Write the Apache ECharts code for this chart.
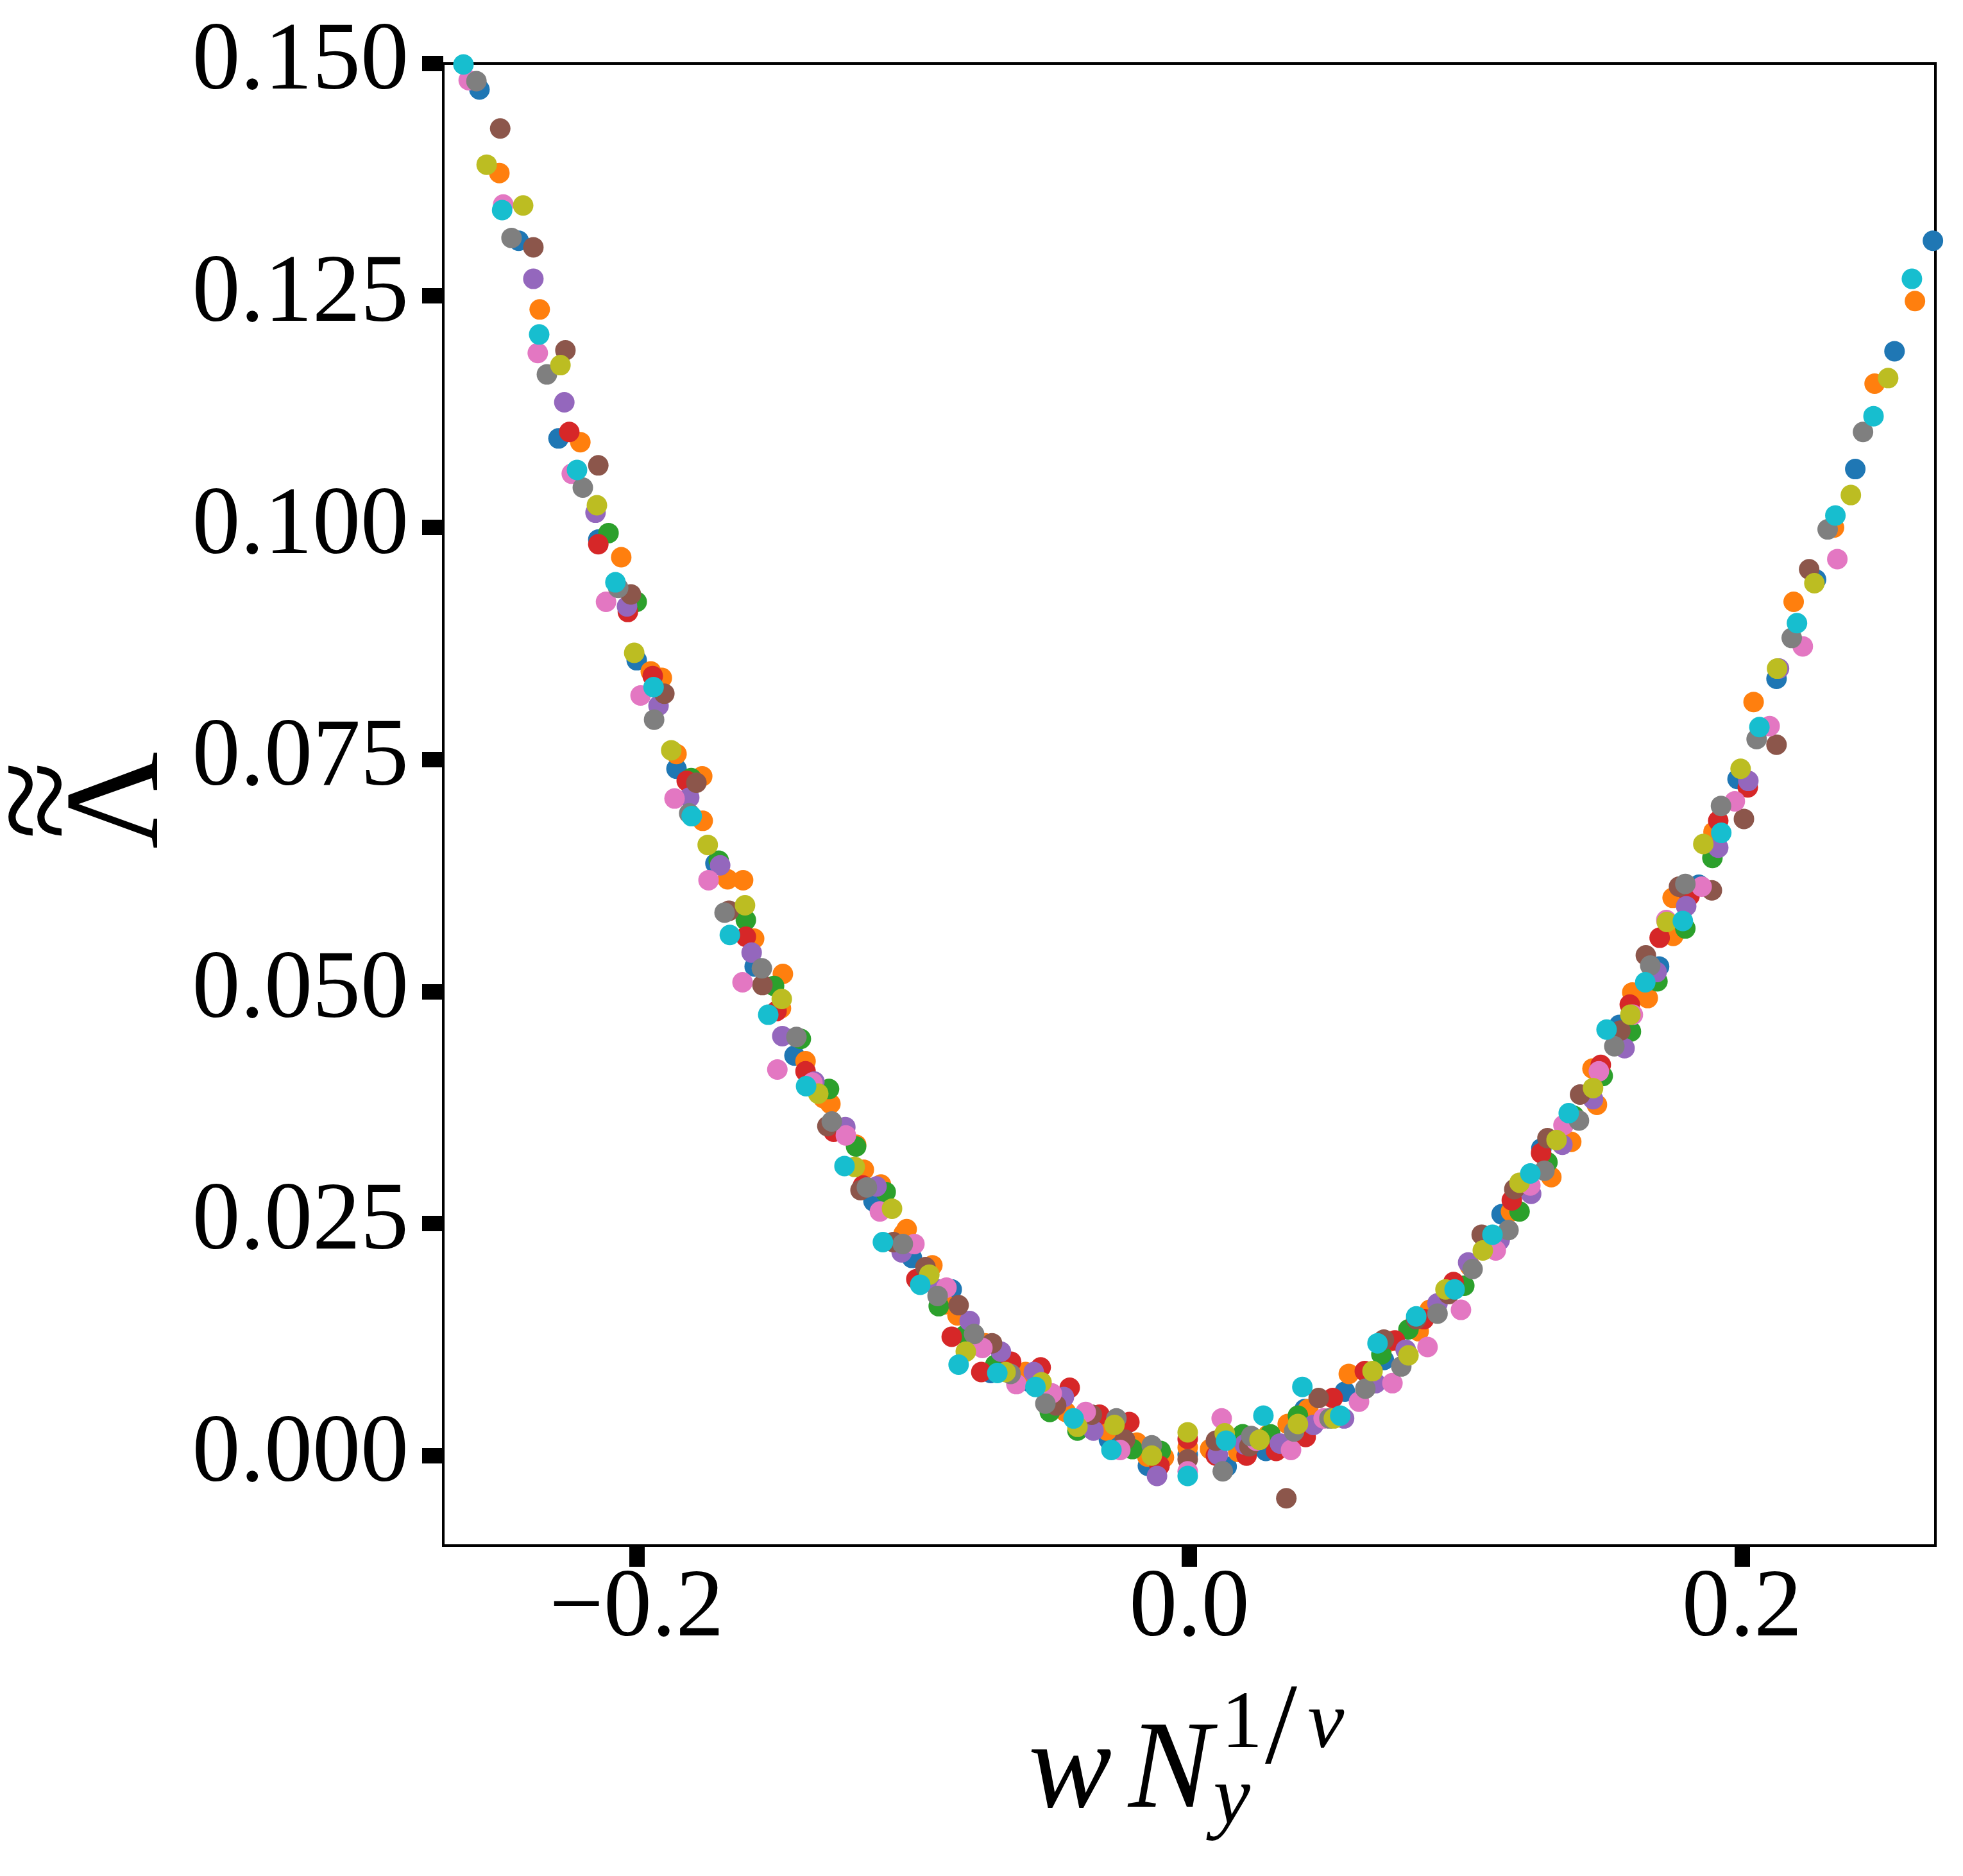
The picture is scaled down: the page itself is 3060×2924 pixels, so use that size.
<!DOCTYPE html>
<html><head><meta charset="utf-8">
<script src="https://cdn.jsdelivr.net/npm/echarts@6/dist/echarts.min.js"></script>
<style>html,body{margin:0;padding:0;background:#fff}#c{width:3060px;height:2924px}</style>
</head><body><div id="c"></div>
<script>
// ---- tick values ----
const xTicks = [-0.2, 0.0, 0.2];
const yTicks = [0.000, 0.025, 0.050, 0.075, 0.100, 0.125, 0.150];

// ---- data: [w*Ny^(1/nu), Lambda~] ----
const blue = [[-0.2569,0.1472],[-0.2427,0.1309],[-0.2283,0.1096],[-0.2139,0.0987],[-0.2000,0.0857],[-0.1856,0.0740],[-0.1715,0.0638],[-0.1573,0.0527],[-0.1429,0.0431],[-0.1287,0.0351],[-0.1143,0.0274],[-0.1004,0.0213],[-0.0860,0.0179],[-0.0719,0.0089],[-0.0575,0.0079],[-0.0291,0.0017],[-0.0150,-0.0011],[-0.0006,0.0001],[0.0135,-0.0012],[0.0277,0.0005],[0.0417,0.0050],[0.0563,0.0069],[0.0704,0.0103],[0.1130,0.0260],[0.1274,0.0331],[0.1556,0.0464],[0.1700,0.0527],[0.1844,0.0615],[0.1984,0.0729],[0.2125,0.0837],[0.2268,0.0944],[0.2410,0.1063],[0.2552,0.1190],[0.2691,0.1309]];
const orange = [[-0.2497,0.1382],[-0.2351,0.1235],[-0.2204,0.1092],[-0.2056,0.0968],[-0.1949,0.0845],[-0.1909,0.0838],[-0.1856,0.0756],[-0.1763,0.0732],[-0.1761,0.0684],[-0.1671,0.0621],[-0.1615,0.0620],[-0.1575,0.0557],[-0.1471,0.0519],[-0.1478,0.0482],[-0.1389,0.0425],[-0.1324,0.0385],[-0.1299,0.0379],[-0.1206,0.0335],[-0.1178,0.0308],[-0.1116,0.0292],[-0.1023,0.0244],[-0.1034,0.0239],[-0.0930,0.0205],[-0.0886,0.0163],[-0.0839,0.0151],[-0.0739,0.0121],[-0.0593,0.0090],[-0.0447,0.0047],[-0.0298,0.0027],[-0.0190,0.0014],[-0.0152,-0.0001],[-0.0092,-0.0002],[-0.0006,0.0009],[0.0075,0.0007],[0.0138,0.0018],[0.0177,0.0004],[0.0284,0.0022],[0.0356,0.0034],[0.0430,0.0050],[0.0577,0.0088],[0.0725,0.0123],[0.0830,0.0134],[0.0870,0.0157],[0.1016,0.0204],[0.1164,0.0263],[0.1310,0.0300],[0.1382,0.0338],[0.1475,0.0378],[0.1459,0.0417],[0.1603,0.0499],[0.1659,0.0493],[0.1751,0.0560],[0.1749,0.0601],[0.1897,0.0672],[0.2042,0.0812],[0.2187,0.0920],[0.2333,0.1000],[0.2480,0.1155],[0.2626,0.1244]];
const green = [[-0.2102,0.0994],[-0.2000,0.0920],[-0.1803,0.0730],[-0.1703,0.0641],[-0.1605,0.0577],[-0.1503,0.0506],[-0.1406,0.0449],[-0.1304,0.0395],[-0.1206,0.0333],[-0.1099,0.0284],[-0.0907,0.0161],[-0.0811,0.0130],[-0.0702,0.0098],[-0.0505,0.0047],[-0.0405,0.0027],[-0.0206,0.0007],[-0.0104,0.0005],[0.0193,0.0023],[0.0293,0.0023],[0.0393,0.0043],[0.0695,0.0109],[0.0793,0.0136],[0.0995,0.0183],[0.1195,0.0263],[0.1296,0.0316],[0.1392,0.0366],[0.1496,0.0409],[0.1598,0.0457],[0.1694,0.0511],[0.1795,0.0568],[0.1893,0.0644]];
const red = [[-0.2244,0.1103],[-0.2139,0.0982],[-0.2032,0.0909],[-0.1942,0.0840],[-0.1819,0.0727],[-0.1605,0.0559],[-0.1494,0.0479],[-0.1389,0.0414],[-0.1287,0.0349],[-0.1181,0.0291],[-0.0988,0.0190],[-0.0860,0.0128],[-0.0753,0.0090],[-0.0645,0.0101],[-0.0538,0.0095],[-0.0433,0.0073],[-0.0325,0.0044],[-0.0217,0.0036],[-0.0108,-0.0011],[-0.0006,0.0018],[0.0096,0.0000],[0.0207,0.0000],[0.0314,0.0005],[0.0421,0.0020],[0.0519,0.0062],[0.0635,0.0091],[0.0744,0.0124],[0.0849,0.0147],[0.0956,0.0187],[0.1167,0.0275],[0.1273,0.0326],[0.1489,0.0421],[0.1594,0.0486],[0.1702,0.0558],[0.1810,0.0603],[0.1914,0.0684],[0.2021,0.0720]];
const purple = [[-0.2374,0.1268],[-0.2262,0.1135],[-0.2149,0.1016],[-0.2035,0.0915],[-0.1921,0.0808],[-0.1810,0.0709],[-0.1698,0.0636],[-0.1584,0.0542],[-0.1473,0.0452],[-0.1357,0.0403],[-0.1245,0.0354],[-0.1132,0.0290],[-0.1041,0.0219],[-0.0911,0.0179],[-0.0795,0.0145],[-0.0682,0.0112],[-0.0563,0.0090],[-0.0454,0.0063],[-0.0347,0.0027],[-0.0117,-0.0022],[0.0103,0.0001],[0.0200,0.0012],[0.0328,0.0013],[0.0449,0.0033],[0.0560,0.0040],[0.0674,0.0078],[0.0783,0.0114],[0.0898,0.0164],[0.1009,0.0208],[0.1123,0.0232],[0.1237,0.0282],[0.1350,0.0335],[0.1461,0.0384],[0.1575,0.0439],[0.1691,0.0521],[0.1798,0.0592],[0.1914,0.0655],[0.2023,0.0727],[0.2134,0.0848]];
const brown = [[-0.2494,0.1430],[-0.2374,0.1302],[-0.2258,0.1191],[-0.2139,0.1067],[-0.2021,0.0928],[-0.1900,0.0821],[-0.1784,0.0725],[-0.1666,0.0587],[-0.1545,0.0507],[-0.1310,0.0355],[-0.1190,0.0286],[-0.1071,0.0230],[-0.0955,0.0203],[-0.0835,0.0162],[-0.0714,0.0121],[-0.0482,0.0054],[-0.0353,0.0044],[-0.0233,0.0017],[-0.0006,-0.0004],[0.0096,0.0016],[0.0217,0.0010],[0.0351,-0.0046],[0.0468,0.0062],[0.0704,0.0125],[0.0821,0.0147],[0.0939,0.0174],[0.1058,0.0238],[0.1176,0.0287],[0.1296,0.0342],[0.1414,0.0389],[0.1560,0.0458],[0.1652,0.0539],[0.1772,0.0613],[0.1891,0.0609],[0.2007,0.0686],[0.2125,0.0766],[0.2243,0.0955]];
const pink = [[-0.2608,0.1482],[-0.2483,0.1348],[-0.2358,0.1188],[-0.2235,0.1058],[-0.2111,0.0920],[-0.1986,0.0819],[-0.1863,0.0708],[-0.1740,0.0620],[-0.1617,0.0510],[-0.1491,0.0416],[-0.1364,0.0402],[-0.1243,0.0345],[-0.1120,0.0263],[-0.0995,0.0228],[-0.0879,0.0181],[-0.0749,0.0116],[-0.0626,0.0077],[-0.0498,0.0067],[-0.0375,0.0047],[-0.0250,0.0006],[-0.0006,-0.0017],[0.0117,0.0040],[0.0242,0.0016],[0.0368,0.0006],[0.0486,0.0040],[0.0614,0.0058],[0.0735,0.0078],[0.0862,0.0117],[0.0983,0.0157],[0.1109,0.0221],[0.1234,0.0291],[0.1354,0.0356],[0.1482,0.0414],[0.1605,0.0475],[0.1726,0.0577],[0.1854,0.0613],[0.1974,0.0705],[0.2100,0.0786],[0.2220,0.0872],[0.2345,0.0966]];
const gray = [[-0.2580,0.1481],[-0.2453,0.1312],[-0.2325,0.1165],[-0.2195,0.1043],[-0.2067,0.0935],[-0.1937,0.0793],[-0.1810,0.0692],[-0.1682,0.0585],[-0.1547,0.0525],[-0.1422,0.0451],[-0.1294,0.0360],[-0.1167,0.0289],[-0.1037,0.0228],[-0.0911,0.0172],[-0.0779,0.0131],[-0.0647,0.0088],[-0.0521,0.0056],[-0.0264,0.0040],[-0.0136,0.0011],[0.0121,-0.0017],[0.0224,0.0021],[0.0379,0.0026],[0.0507,0.0040],[0.0637,0.0072],[0.0767,0.0096],[0.0898,0.0153],[0.1025,0.0201],[0.1155,0.0243],[0.1285,0.0307],[0.1410,0.0361],[0.1538,0.0441],[0.1668,0.0528],[0.1795,0.0616],[0.1924,0.0700],[0.2053,0.0772],[0.2180,0.0881],[0.2310,0.0998],[0.2438,0.1103]];
const olive = [[-0.2543,0.1391],[-0.2411,0.1347],[-0.2276,0.1175],[-0.2144,0.1024],[-0.2009,0.0865],[-0.1875,0.0760],[-0.1743,0.0658],[-0.1608,0.0593],[-0.1475,0.0492],[-0.1343,0.0390],[-0.1211,0.0311],[-0.1076,0.0266],[-0.0941,0.0195],[-0.0809,0.0112],[-0.0665,0.0090],[-0.0535,0.0079],[-0.0405,0.0031],[-0.0271,0.0033],[-0.0136,0.0000],[-0.0006,0.0025],[0.0128,0.0024],[0.0254,0.0017],[0.0393,0.0034],[0.0523,0.0040],[0.0663,0.0091],[0.0793,0.0108],[0.0927,0.0179],[0.1062,0.0221],[0.1195,0.0294],[0.1329,0.0340],[0.1461,0.0396],[0.1596,0.0475],[0.1728,0.0575],[0.1860,0.0659],[0.1995,0.0740],[0.2127,0.0848],[0.2262,0.0940],[0.2394,0.1035],[0.2529,0.1161]];
const cyan = [[-0.2627,0.1499],[-0.2487,0.1342],[-0.2353,0.1208],[-0.2216,0.1062],[-0.2077,0.0941],[-0.1939,0.0828],[-0.1801,0.0689],[-0.1663,0.0561],[-0.1524,0.0475],[-0.1387,0.0398],[-0.1248,0.0312],[-0.1109,0.0230],[-0.0974,0.0184],[-0.0835,0.0098],[-0.0695,0.0089],[-0.0557,0.0074],[-0.0419,0.0040],[-0.0282,0.0006],[-0.0006,-0.0022],[0.0133,0.0016],[0.0268,0.0043],[0.0409,0.0074],[0.0546,0.0043],[0.0681,0.0121],[0.0821,0.0150],[0.0960,0.0179],[0.1097,0.0238],[0.1234,0.0304],[0.1373,0.0369],[0.1510,0.0459],[0.1650,0.0510],[0.1786,0.0576],[0.1925,0.0671],[0.2063,0.0785],[0.2199,0.0897],[0.2338,0.1013],[0.2476,0.1120],[0.2615,0.1268]];

const groups = [
  ['#1f77b4', blue], ['#ff7f0e', orange], ['#2ca02c', green], ['#d62728', red],
  ['#9467bd', purple], ['#8c564b', brown], ['#e377c2', pink], ['#7f7f7f', gray],
  ['#bcbd22', olive], ['#17becf', cyan]
];

const FONT = '"Liberation Serif", "DejaVu Serif", serif';
const chart = echarts.init(document.getElementById('c'), null, {renderer: 'canvas'});

const txt = (text, x, y, size, italic, rot) => ({
  type: 'text', x: x, y: y, rotation: rot || 0, z: 100,
  style: {
    text: text, fill: '#000',
    font: (italic ? 'italic ' : '') + size + 'px ' + FONT,
    align: 'center', verticalAlign: 'middle',
    textAlign: 'center', textVerticalAlign: 'middle'
  }
});

chart.setOption({
  animation: false,
  backgroundColor: '#fff',
  grid: {left: 691, top: 99, width: 2326, height: 2310, containLabel: false,
         show: true, borderColor: '#000', borderWidth: 4, backgroundColor: 'transparent'},
  xAxis: {
    type: 'value', min: -0.27, max: 0.27,
    axisLine: {show: false, onZero: false}, splitLine: {show: false},
    axisTick: {show: true, length: 33, customValues: xTicks, lineStyle: {color: '#000', width: 24}},
    axisLabel: {customValues: xTicks, margin: 26, color: '#000', fontFamily: FONT, fontSize: 150,
      formatter: v => (v < -1e-9 ? '\u2212' : '') + Math.abs(v).toFixed(1)}
  },
  yAxis: {
    type: 'value', min: -0.0097, max: 0.15,
    axisLine: {show: false, onZero: false}, splitLine: {show: false},
    axisTick: {show: true, length: 33, customValues: yTicks, lineStyle: {color: '#000', width: 24}},
    axisLabel: {customValues: yTicks, margin: 54, color: '#000', fontFamily: FONT, fontSize: 150,
      formatter: v => v.toFixed(3)}
  },
  series: groups.map(([c, d]) => ({
    type: 'scatter', data: d, symbol: 'circle', symbolSize: 32, clip: true,
    itemStyle: {color: c, opacity: 1}, emphasis: {disabled: true}
  })),
  graphic: [
    txt('w', 1668, 2765, 195, true),
    txt('N', 1824, 2765, 195, true),
    txt('y', 1920, 2807, 130, true),
    txt('1', 1936, 2689, 128, false),
    txt('/', 1997, 2700, 180, false),
    txt('\u03bd', 2067, 2689, 128, true),
    txt('\u039b', 190, 1247, 210, false, Math.PI / 2),
    txt('\u2248', 70, 1247, 225, false, Math.PI / 2)
  ]
});
</script></body></html>
